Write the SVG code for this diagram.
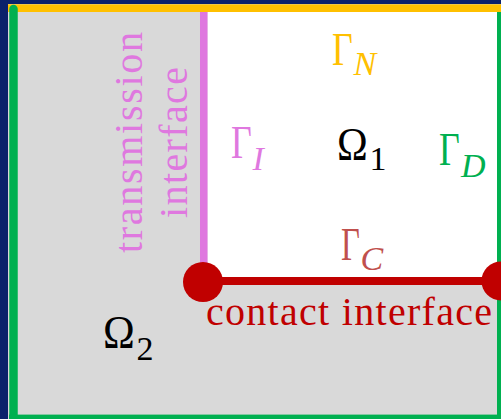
<svg xmlns="http://www.w3.org/2000/svg" width="501" height="419" viewBox="0 0 501 419">
<style>
.serif{font-family:"Liberation Serif","Times New Roman",serif;}
.it{font-style:italic;}
.main{font-size:46px;}
.sub{font-size:34px;}
</style>
<rect id="background" x="0" y="0" width="501" height="419" fill="#0b216b"/>
<g id="domain2">
<rect x="8" y="4" width="493" height="415" fill="#d9d9d9"/>
</g>
<g id="domain1">
<rect x="207.5" y="12" width="291.5" height="269" fill="#ffffff"/>
</g>
<g id="connectors">
<rect id="gammaN-line" x="8" y="4.3" width="493" height="7.7" fill="#ffc000"/>
<rect id="gammaI-line" x="200" y="12" width="7.5" height="253" fill="#df78df"/>
<line id="left-green" x1="13.5" y1="9" x2="13.5" y2="419" stroke="#00b050" stroke-width="8.5" stroke-linecap="round"/>
<rect id="bottom-green" x="9" y="414.6" width="492" height="4.4" fill="#00b050"/>
<rect id="right-green" x="497" y="12" width="4" height="407" fill="#00b050"/>
<rect id="right-green-top" x="499" y="12" width="2" height="269" fill="#00b050"/>
<line id="gammaC-line" x1="203" y1="281" x2="501" y2="281" stroke="#c00000" stroke-width="8"/>
</g>
<g id="contact-points">
<circle cx="203" cy="282" r="20" fill="#c00000"/>
<circle cx="501" cy="281" r="19.5" fill="#c00000"/>
</g>
<g id="label-transmission" class="serif" fill="#df78df" font-size="40">
<text transform="translate(142,142.5) rotate(-90)" text-anchor="middle" textLength="221" lengthAdjust="spacing">transmission</text>
<text transform="translate(187,142.5) rotate(-90)" text-anchor="middle" textLength="151" lengthAdjust="spacing">interface</text>
</g>
<g id="label-contact">
<text class="serif" x="206" y="325" font-size="40" fill="#c00000" textLength="286" lengthAdjust="spacing">contact interface</text>
</g>
<g id="label-gammaN" class="serif" fill="#ffc000">
<text class="main" transform="translate(332,65) scale(0.78,1)">Γ</text>
<text class="sub it" x="353.5" y="75">N</text>
</g>
<g id="label-gammaI" class="serif" fill="#df78df">
<text class="main" transform="translate(231,158) scale(0.78,1)">Γ</text>
<text class="sub it" x="252.5" y="170">I</text>
</g>
<g id="label-omega1" class="serif" fill="#000000">
<text class="main" transform="translate(337,160) scale(0.9,1)">Ω</text>
<text class="sub" x="369.5" y="170">1</text>
</g>
<g id="label-gammaD" class="serif" fill="#00b050">
<text class="main" transform="translate(439,165) scale(0.78,1)">Γ</text>
<text class="sub it" x="461" y="177">D</text>
</g>
<g id="label-gammaC" class="serif" fill="#c0504d">
<text class="main" transform="translate(341,260) scale(0.71,1)">Γ</text>
<text class="sub it" x="360.5" y="270">C</text>
</g>
<g id="label-omega2" class="serif" fill="#000000">
<text class="main" transform="translate(103,348) scale(0.93,1)">Ω</text>
<text class="sub" x="136.5" y="360">2</text>
</g>
</svg>
